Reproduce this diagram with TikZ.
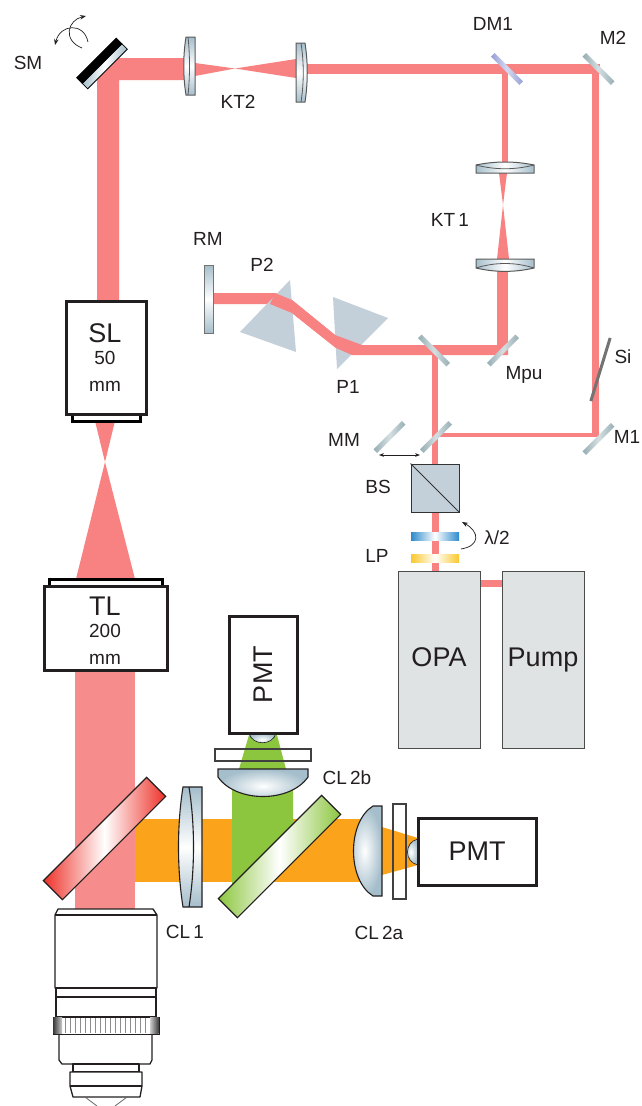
\documentclass[tikz,border=0pt]{standalone}
\usepackage{xcolor}
\usepackage{fontspec}
\setmainfont{Liberation Sans}
\usetikzlibrary{arrows.meta, calc}
\definecolor{beamred}{RGB}{248,130,130}
\definecolor{beampink}{RGB}{246,140,140}
\definecolor{beamorange}{RGB}{251,163,26}
\definecolor{beamgreen}{RGB}{140,198,63}
\definecolor{glassblue}{RGB}{165,190,203}
\definecolor{mirrorgray}{RGB}{150,174,180}
\definecolor{prismgray}{RGB}{195,208,218}
\definecolor{boxgray}{RGB}{224,227,227}
\definecolor{inkdark}{RGB}{35,31,32}
\definecolor{platered}{RGB}{238,49,41}
\definecolor{plateblue}{RGB}{46,139,203}
\definecolor{plateyellow}{RGB}{251,200,45}
\definecolor{dmblue}{RGB}{150,160,215}

\begin{document}
\begin{tikzpicture}[x=1pt, y=-1pt,
  lbl/.style={inner sep=0pt, text=inkdark, font=\fontsize{19}{22}\selectfont},
  bigbox/.style={rectangle, draw=inkdark, line width=3pt, fill=white, inner sep=0pt, align=center, text=inkdark, font=\fontsize{27}{30}\selectfont},
  boxtext/.style={inner sep=0pt, align=center, text=inkdark, font=\fontsize{27}{30}\selectfont},
  specbox/.style={rectangle, draw=black, line width=3pt, fill=white, inner sep=0pt},
  laserbox/.style={rectangle, draw=black!70, line width=1pt, fill=boxgray, inner sep=0pt, minimum width=82pt, minimum height=177pt, text height=20pt, text depth=6pt, text=inkdark, font=\fontsize{27}{30}\selectfont},
  mirror/.style={rectangle, inner sep=0pt, minimum width=40pt, minimum height=5pt, left color=#1, right color=#1, middle color=#1!40},
  mirror/.default=mirrorgray,
  plate/.style={rectangle, draw=inkdark, line width=1.2pt, inner sep=0pt, minimum width=146pt, minimum height=27pt, left color=#1, right color=#1, middle color=white},
  waveplate/.style={rectangle, inner sep=0pt, minimum width=48pt, minimum height=8pt, left color=#1, right color=#1, middle color=white},
  filterbox/.style={rectangle, draw=black!75, line width=1.2pt, inner sep=0pt},
  glass/.style={draw=black!65, line width=1pt, top color=glassblue, bottom color=glassblue, middle color=white},
  glassh/.style={draw=black!65, line width=1pt, left color=glassblue, right color=glassblue, middle color=white},
  dome/.style={draw=inkdark, line width=1.1pt, inner color=white, outer color=glassblue},
  objline/.style={draw=inkdark, line width=1.3pt, line join=round},
  arr/.style={-{Stealth[length=6pt]}, line width=.7pt, inkdark}
]
\useasboundingbox (0,0) rectangle (642,1106);

% beams
\fill[beamred] (97,301) -- (97,58) -- (185,58) -- (185,80) -- (119,80) -- (119,301) -- cycle;
\fill[beamred] (195,63) -- (235,68.5) -- (296,59) -- (296,78) -- (235,68.5) -- (195,76) -- cycle;
\fill[beamred] (307,63.5) rectangle (600,74);
\fill[beamred] (592,70) rectangle (599,437);
\fill[beamred] (502,74) rectangle (508,165);
\fill[beamred] (499,173) -- (503,205) -- (497,259) -- (509,259) -- (503,205) -- (507,173) -- cycle;
\fill[beamred] (497,268) rectangle (508,355);
\fill[beamred] (213,293) -- (275,293) -- (292,300) -- (335,335) -- (362,345) -- (508,345) -- (508,355) -- (352,355) -- (336,348) -- (292,313) -- (270,304) -- (213,304) -- cycle;
\fill[beamred] (432,355) rectangle (438,464);
\fill[beamred] (438,433) rectangle (595,437);
\fill[beamred] (432,512) rectangle (439,572);
\fill[beamred] (480,580) rectangle (502,587);
\fill[beamred] (95,421) -- (105,462) -- (76,579) -- (135,579) -- (105,462) -- (115,421) -- cycle;
\fill[beampink] (75,670) rectangle (135,910);
\fill[beamorange] (135,819) rectangle (360,882);
\fill[beamorange] (382,827) -- (418,838) -- (418,865) -- (382,875) -- cycle;
\fill[beamgreen] (232,790) -- (293,790) -- (293,840) -- (232,900) -- cycle;
\fill[beamgreen] (249,735) -- (277,735) -- (286,769) -- (239,769) -- cycle;

% prisms
\fill[prismgray] (290,280) -- (240,332) -- (296,352) -- cycle;
\fill[prismgray] (333,297) -- (388,318) -- (337,369) -- cycle;
\fill[beamred] (275,293) -- (292,300) -- (335,335) -- (362,345) -- (352,355) -- (336,348) -- (292,313) -- (270,304) -- cycle;

% mirrors
\node[rectangle, rotate=45, inner sep=0pt, minimum width=56pt, minimum height=7.8pt, draw=black, line width=.8pt, left color=glassblue, right color=glassblue, middle color=white] (SMfront) at (104.75,66.25) {};
\node[rectangle, rotate=45, inner sep=0pt, minimum width=56pt, minimum height=7.8pt, draw=black, line width=.8pt, fill=black] (SMback) at (99.25,60.75) {};
\node[mirror=dmblue, rotate=-45] (DMa) at (507,69) {};
\node[mirror, rotate=-45] (Mb) at (598.5,69) {};
\node[mirror, rotate=-45] (Mc) at (434,350.5) {};
\node[mirror, rotate=45] (Mpu) at (503,350.5) {};
\node[mirror, rotate=45] (MM) at (389.5,437) {};
\node[mirror, rotate=45] (MMb) at (436,437) {};
\node[mirror, rotate=45] (Ma) at (598.5,439) {};
\node[rectangle, rotate=73, inner sep=0pt, minimum width=66pt, minimum height=3pt, fill=black!55] (Si) at (600.5,369.5) {};
\node[rectangle, inner sep=0pt, minimum width=9pt, minimum height=68pt, draw=black!55, line width=.8pt, top color=glassblue, bottom color=glassblue, middle color=white] (RM) at (208.5,299) {};

% lenses
\path[glass] (186,37) .. controls (183,55) and (183,77) .. (186,95) -- (195,95) -- (195,37) -- cycle;
\draw[black!65, line width=.8pt] (188,37) .. controls (190,55) and (190,77) .. (188,95);
\path[glass] (305,43) .. controls (308,62) and (308,83) .. (305,102) -- (296,102) -- (296,43) -- cycle;
\draw[black!65, line width=.8pt] (301,43) .. controls (304,62) and (304,83) .. (301,102);
\path[glassh] (476,165) .. controls (495,161) and (515,161) .. (534,165) -- (534,173) -- (476,173) -- cycle;
\draw[black!65, line width=.8pt] (476,165) .. controls (495,170) and (515,170) .. (534,165);
\path[glassh] (476,259) -- (534,259) -- (534,268) .. controls (515,272.5) and (495,272.5) .. (476,268) -- cycle;
\draw[black!65, line width=.8pt] (476,268) .. controls (495,262) and (515,262) .. (534,268);
\path[glass, draw=inkdark, line width=1.1pt] (183,787) .. controls (177,825) and (177,869) .. (183,907) -- (202,907) -- (202,787) -- cycle;
\draw[inkdark, line width=1.1pt] (189,787) .. controls (195,825) and (195,869) .. (189,907);
\path[dome] (218,769) -- (308,769) -- (308,777) .. controls (290,803) and (236,803) .. (218,777) -- cycle;
\path[dome] (382,806) -- (382,896) -- (373,896) .. controls (347,880) and (347,822) .. (373,806) -- cycle;
\path[dome, line width=.6pt] (249,733) .. controls (252,746) and (273,746) .. (276,733) -- cycle;
\path[dome, line width=.6pt] (418,839) .. controls (404,842) and (404,862) .. (418,865) -- cycle;

% dichroics and filters
\node[plate=platered, rotate=45] (DMred) at (104.5,838.5) {};
\node[plate=beamgreen, rotate=45] (DMgreen) at (279.5,856.5) {};
\node[filterbox, minimum width=96pt, minimum height=12pt] (Fb) at (263,755) {};
\node[filterbox, minimum width=13pt, minimum height=95pt] (Fa) at (399.5,851.5) {};
\node[waveplate=plateblue] (WP) at (435,536) {};
\node[waveplate=plateyellow] (LP) at (435,558) {};

% boxes
\node[specbox, minimum width=68pt, minimum height=7pt] (SLcap) at (106,417.5) {};
\node[bigbox, minimum width=80pt, minimum height=113pt] (SL) at (106,357.5) {};
\node[boxtext] (tSL) at (105,357.5) {SL\\[-8pt]{\fontsize{19}{22}\selectfont 50}\\[-3pt]{\fontsize{19}{22}\selectfont mm}};
\node[specbox, minimum width=113pt, minimum height=7pt] (TLcap) at (105.5,582.5) {};
\node[bigbox, minimum width=123pt, minimum height=84pt] (TL) at (105.5,628) {};
\node[boxtext] (tTL) at (105,630.5) {TL\\[-8pt]{\fontsize{19}{22}\selectfont 200}\\[-3pt]{\fontsize{19}{22}\selectfont mm}};
\node[bigbox, minimum width=68pt, minimum height=117pt] (PMTa) at (263,674.5) {\rotatebox{90}{PMT}};
\node[bigbox, minimum width=118pt, minimum height=67pt] (PMTb) at (477,851.5) {PMT};
\node[laserbox] (OPA) at (439,659.5) {OPA};
\node[laserbox] (Pump) at (543,659.5) {Pump};
\node[rectangle, draw=black!80, line width=1pt, fill=prismgray, inner sep=0pt, minimum size=48pt] (BS) at (435,488) {};
\draw[black!80, line width=1pt] (BS.north west) -- (BS.south east);

% objective
\path[objline, fill=white] (58,909) -- (153,909) -- (157,915) -- (157,988) -- (55,988) -- (55,915) -- cycle;
\draw[objline] (55,915) -- (157,915);
\path[objline, fill=white] (56,988) rectangle (156,997);
\path[objline, fill=white] (56,997) rectangle (156,1017);
\path[objline, fill=white] (59,1034) -- (152,1034) -- (152,1060) -- (150,1064) -- (62,1064) -- (59,1060) -- cycle;
\path[objline, fill=white] (73,1064) rectangle (139,1072);
\path[objline, fill=white] (70,1072) -- (142,1072) -- (142,1086) -- (140,1097) -- (73,1097) -- (70,1086) -- cycle;
\draw[objline] (70,1086) -- (142,1086);
\node[rectangle, draw=inkdark, line width=1pt, fill=white, inner sep=0pt, minimum width=106pt, minimum height=17pt] (knurl) at (106,1025.5) {};
\foreach \x in {60,65,...,155} {
  \draw[black!45, line width=1pt] (\x,1018) -- (\x,1033);
}
\shade[left color=black!75, right color=black!20] (53.5,1017.5) rectangle (62,1033.5);
\shade[left color=black!20, right color=black!75] (150,1017.5) rectangle (158.5,1033.5);
\draw[objline, line width=.8pt, draw=black!60] (85,1097) -- (97,1106);
\draw[objline, line width=.8pt, draw=black!60] (127,1097) -- (115,1106);

% arrows
\draw[arr] (82,48) .. controls (62,40) and (68,20) .. (86,16);
\draw[arr] (88,42) .. controls (84,22) and (60,24) .. (55,45);
\draw[{Stealth[length=5pt]}-{Stealth[length=5pt]}, line width=.8pt, inkdark] (379,455) -- (420,455);
\draw[arr] (461,549) .. controls (480,546) and (480,532) .. (462,522);

% labels
\node[lbl] (tSM) at (28,63) {SM};
\node[lbl] (tKTb) at (238,101.5) {KT2};
\node[lbl] (tDM) at (493,24) {DM1};
\node[lbl] (tMb) at (613,38) {M2};
\node[lbl] (tKTa) at (450,220) {KT\,1};
\node[lbl] (tRM) at (208,239) {RM};
\node[lbl] (tPb) at (262,265) {P2};
\node[lbl] (tPa) at (348,387) {P1};
\node[lbl] (tMpu) at (524,375) {Mpu};
\node[lbl] (tSi) at (623,357) {Si};
\node[lbl] (tMM) at (344,440) {MM};
\node[lbl] (tMa) at (627,437) {M1};
\node[lbl] (tBS) at (378,487) {BS};
\node[lbl] (tLam) at (497,538) {λ/2};
\node[lbl] (tLP) at (377,556) {LP};
\node[lbl] (tCLa) at (185,932) {CL\,1};
\node[lbl] (tCLc) at (347,778) {CL\,2b};
\node[lbl] (tCLb) at (379,933) {CL\,2a};
\end{tikzpicture}
\end{document}
